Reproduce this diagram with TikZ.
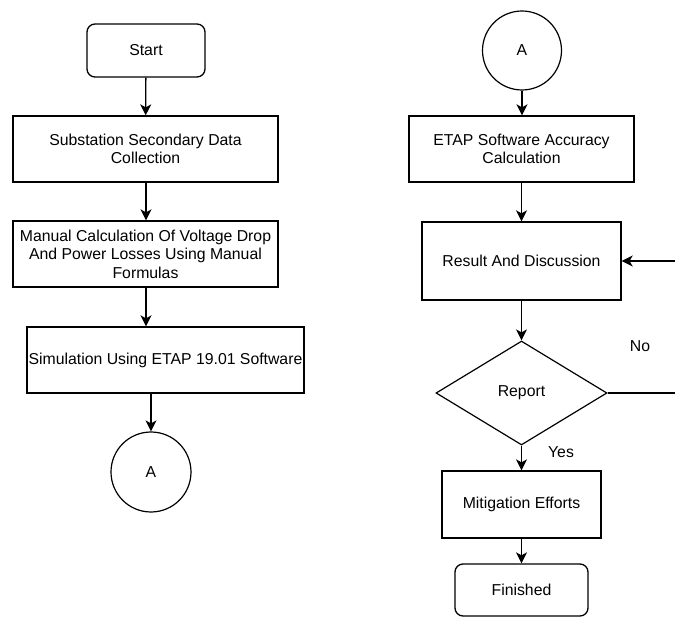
\documentclass[tikz,border=0pt]{standalone}
\usepackage{fontspec}
\setmainfont{Liberation Sans}
\usetikzlibrary{shapes.geometric,arrows.meta}
\begin{document}
\begin{tikzpicture}[x=1pt,y=-1pt,
  every node/.style={font=\fontsize{15.8}{18.5}\selectfont},
  box/.style={draw,line width=1.3pt,rectangle,inner sep=0pt,align=center},
  term/.style={box,rounded corners=8pt},
  conn/.style={draw,circle,line width=1.2pt,inner sep=0pt,minimum size=80pt},
  dec/.style={draw,diamond,line width=1.2pt,inner sep=0pt,minimum width=171pt,minimum height=104pt},
  arr/.style={line width=1.3pt,-{Stealth[length=11pt,width=11pt,inset=3pt]}},
  lbl/.style={inner sep=0pt}]
\useasboundingbox (0,0) rectangle (675,617);
% left column
\node[term,minimum width=118pt,minimum height=53pt] (start) at (146,50.5) {Start};
\node[box,minimum width=265pt,minimum height=66pt] (sub) at (145.5,149) {Substation Secondary Data\\Collection};
\node[box,minimum width=265pt,minimum height=66pt] (man) at (145.5,254) {Manual Calculation Of Voltage Drop\\And Power Losses Using Manual\\Formulas};
\node[box,minimum width=277pt,minimum height=66pt] (sim) at (165.5,360) {Simulation Using ETAP 19.01 Software};
\node[conn] (a1) at (151,472) {A};
% right column
\node[conn,minimum size=79pt] (a2) at (522,50.5) {A};
\node[box,minimum width=225pt,minimum height=66pt] (etap) at (521.5,149) {ETAP Software Accuracy\\Calculation};
\node[box,minimum width=199pt,minimum height=78pt] (res) at (521.5,261) {Result And Discussion};
\node[dec] (rep) at (521.5,393) {Report};
\node[box,minimum width=159pt,minimum height=67pt] (mit) at (521.5,504.5) {Mitigation Efforts};
\node[term,minimum width=133pt,minimum height=52pt] (fin) at (521.5,590) {Finished};
\node[lbl] (no) at (640,346) {No};
\node[lbl] (yes) at (561,452) {Yes};
\coordinate (fb) at (700,0);
% connectors
\draw[arr] (start) -- (sub);
\draw[arr] (sub.south -| start) -- (man.north -| start);
\draw[arr] (man.south -| start) -- (sim.north -| start);
\draw[arr] (sim.south -| a1) -- (a1.north);
\draw[arr] (a2) -- (etap.north -| a2);
\draw[arr] (etap) -- (res);
\draw[arr] (res) -- (rep);
\draw[arr] (rep) -- (mit);
\draw[arr] (mit) -- (fin);
\draw[arr] (rep.east) -- (rep.east -| fb) -- (res.east -| fb) -- (res.east);
\end{tikzpicture}
\end{document}
